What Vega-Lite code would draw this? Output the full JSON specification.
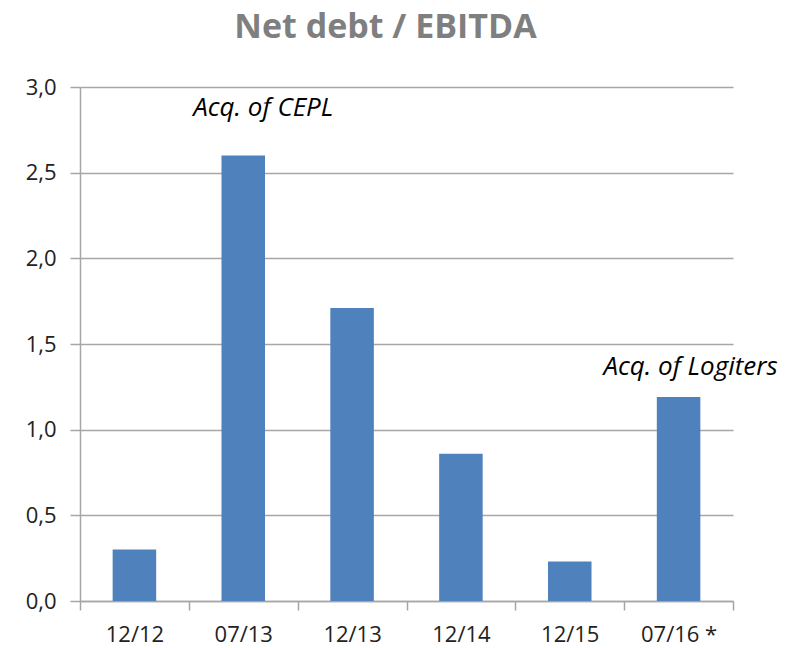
{
  "$schema": "https://vega.github.io/schema/vega-lite/v6.json",
  "width": 653,
  "height": 514,
  "autosize": {"type": "none"},
  "padding": {"left": 80, "top": 87, "right": 63, "bottom": 47},
  "background": "white",
  "title": {
    "text": "Net debt / EBITDA",
    "font": "Open Sans",
    "fontSize": 34,
    "fontWeight": "bold",
    "color": "#7f7f7f",
    "anchor": "middle",
    "dx": -21,
    "offset": 31
  },
  "data": {
    "values": [
      {"period": "12/12", "value": 0.30},
      {"period": "07/13", "value": 2.60, "note": "Acq. of CEPL"},
      {"period": "12/13", "value": 1.71},
      {"period": "12/14", "value": 0.86},
      {"period": "12/15", "value": 0.23},
      {"period": "07/16", "value": 1.19, "note": "Acq. of Logiters"}
    ]
  },
  "encoding": {
    "x": {
      "field": "period",
      "type": "nominal",
      "sort": null,
      "scale": {"paddingInner": 0, "paddingOuter": 0},
      "axis": {
        "title": null,
        "labelAngle": 0,
        "labelFont": "Open Sans",
        "labelFontSize": 22,
        "labelColor": "#222222",
        "labelPadding": 14,
        "labelExpr": "datum.value == '07/16' ? '07/16 *' : datum.value",
        "domainColor": "#a6a6a6",
        "domainWidth": 1.5,
        "tickColor": "#a6a6a6",
        "tickWidth": 1.5,
        "tickSize": 9,
        "tickBand": "extent",
        "grid": false
      }
    },
    "y": {
      "field": "value",
      "type": "quantitative",
      "scale": {"domain": [0, 3], "nice": false},
      "axis": {
        "title": null,
        "values": [0, 0.5, 1, 1.5, 2, 2.5, 3],
        "labelExpr": "replace(format(datum.value, '.1f'), '.', ',')",
        "labelFont": "Open Sans",
        "labelFontSize": 22,
        "labelColor": "#222222",
        "labelPadding": 14,
        "domainColor": "#a6a6a6",
        "domainWidth": 1.5,
        "tickColor": "#a6a6a6",
        "tickWidth": 1.5,
        "tickSize": 10,
        "gridColor": "#a6a6a6",
        "gridWidth": 1.5
      }
    }
  },
  "layer": [
    {"mark": {"type": "bar", "color": "#4f81bd", "width": {"band": 0.4}}},
    {
      "transform": [{"filter": "datum.period == '07/13'"}],
      "mark": {"type": "text", "font": "Open Sans", "fontStyle": "italic", "fontSize": 26, "color": "black", "dx": 20, "dy": -40, "baseline": "alphabetic"},
      "encoding": {"text": {"field": "note"}}
    },
    {
      "transform": [{"filter": "datum.period == '07/16'"}],
      "mark": {"type": "text", "font": "Open Sans", "fontStyle": "italic", "fontSize": 26, "color": "black", "dx": 12, "dy": -22, "baseline": "alphabetic"},
      "encoding": {"text": {"field": "note"}}
    }
  ],
  "config": {"view": {"stroke": null}}
}
